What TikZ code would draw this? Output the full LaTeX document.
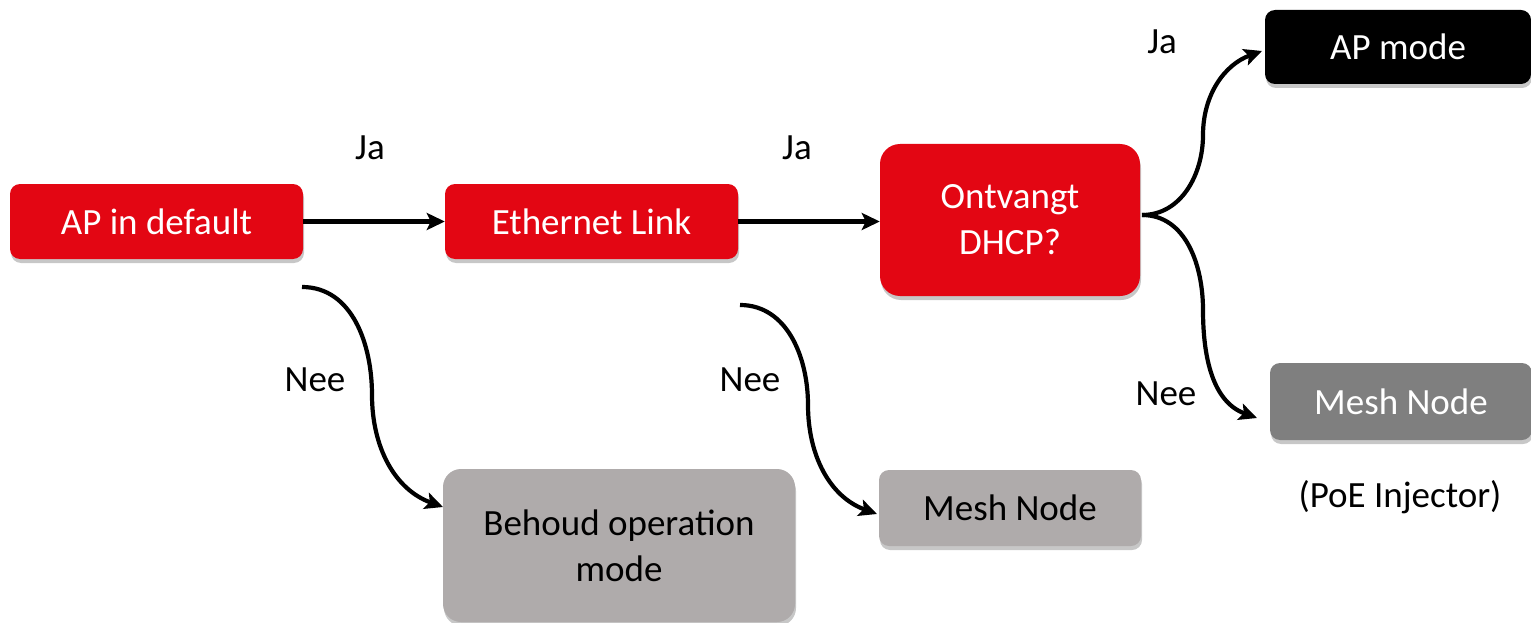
\documentclass[tikz,border=0pt]{standalone}
\usepackage{fontspec}
\setmainfont{Carlito}
\usetikzlibrary{arrows.meta,shadows}
\definecolor{bred}{HTML}{E30613}
\definecolor{dgray}{HTML}{7F7F7F}
\definecolor{lgray}{HTML}{AFABAB}
\tikzset{
  box/.style={rounded corners=10pt, inner sep=0pt, align=center, font=\fontsize{37}{46}\selectfont,
    drop shadow={shadow xshift=1pt, shadow yshift=-4pt, fill=black, opacity=0.22}},
  redbox/.style={box, fill=bred, text=white},
  blackbox/.style={box, fill=black, text=white},
  dgraybox/.style={box, fill=dgray, text=white},
  lgraybox/.style={box, fill=lgray, text=black},
  lbl/.style={font=\fontsize{37}{44}\selectfont, text=black},
  arr/.style={line width=4.2pt, -{Stealth[length=18pt,width=17pt,inset=4pt]}},
}
\begin{document}
\begin{tikzpicture}[x=1pt,y=-1pt]
\useasboundingbox (0,0) rectangle (1531,623);
% nodes
\node[redbox, minimum width=293pt, minimum height=75pt] (apd) at (156.5,221.5) {AP in default};
\node[redbox, minimum width=293pt, minimum height=75pt] (eth) at (591.5,221.5) {Ethernet Link};
\node[redbox, rounded corners=20pt, minimum width=260pt, minimum height=152pt] (dhcp) at (1010,220) {Ontvangt\\DHCP?};
\node[blackbox, minimum width=266pt, minimum height=74pt] (apm) at (1398,47) {AP mode};
\node[dgraybox, minimum width=262pt, minimum height=77pt] (mesh1) at (1401,401.5) {Mesh Node};
\node[lgraybox, rounded corners=18pt, minimum width=352pt, minimum height=153pt] (beh) at (619,545.5) {Behoud operation\\mode};
\node[lgraybox, minimum width=262pt, minimum height=76pt] (mesh2) at (1010,508) {Mesh Node};
\node[lbl] (poe) at (1400,497) {(PoE Injector)};
% labels
\node[lbl] (ja1) at (370,148) {Ja};
\node[lbl] (ja2) at (797,148) {Ja};
\node[lbl] (ja3) at (1162,42) {Ja};
\node[lbl] (nee1) at (315,380) {Nee};
\node[lbl] (nee2) at (750,380) {Nee};
\node[lbl] (nee3) at (1166,394) {Nee};
% coordinates
\coordinate (s1) at (302,287);
\coordinate (m1) at (372,395);
\coordinate (e1) at (443,507);
\coordinate (s2) at (740,305);
\coordinate (m2) at (808,405);
\coordinate (e2) at (877,514);
\coordinate (d0) at (1142,215);
\coordinate (mu) at (1203,135);
\coordinate (eu) at (1262,51);
\coordinate (md) at (1203,310);
\coordinate (ed) at (1257,418);
% connectors
\draw[arr] (apd.east) -- (eth.west);
\draw[arr] (eth.east) -- (dhcp.west|-eth.east);
\draw[arr] (s1) to[out=0,in=90] (m1) to[out=-90,in=160] (e1);
\draw[arr] (s2) to[out=0,in=90] (m2) to[out=-90,in=160] (e2);
\draw[arr] (d0) to[out=0,in=-90] (mu) to[out=90,in=200] (eu);
\draw[arr] (d0) to[out=0,in=90] (md) to[out=-90,in=160] (ed);
\end{tikzpicture}
\end{document}
